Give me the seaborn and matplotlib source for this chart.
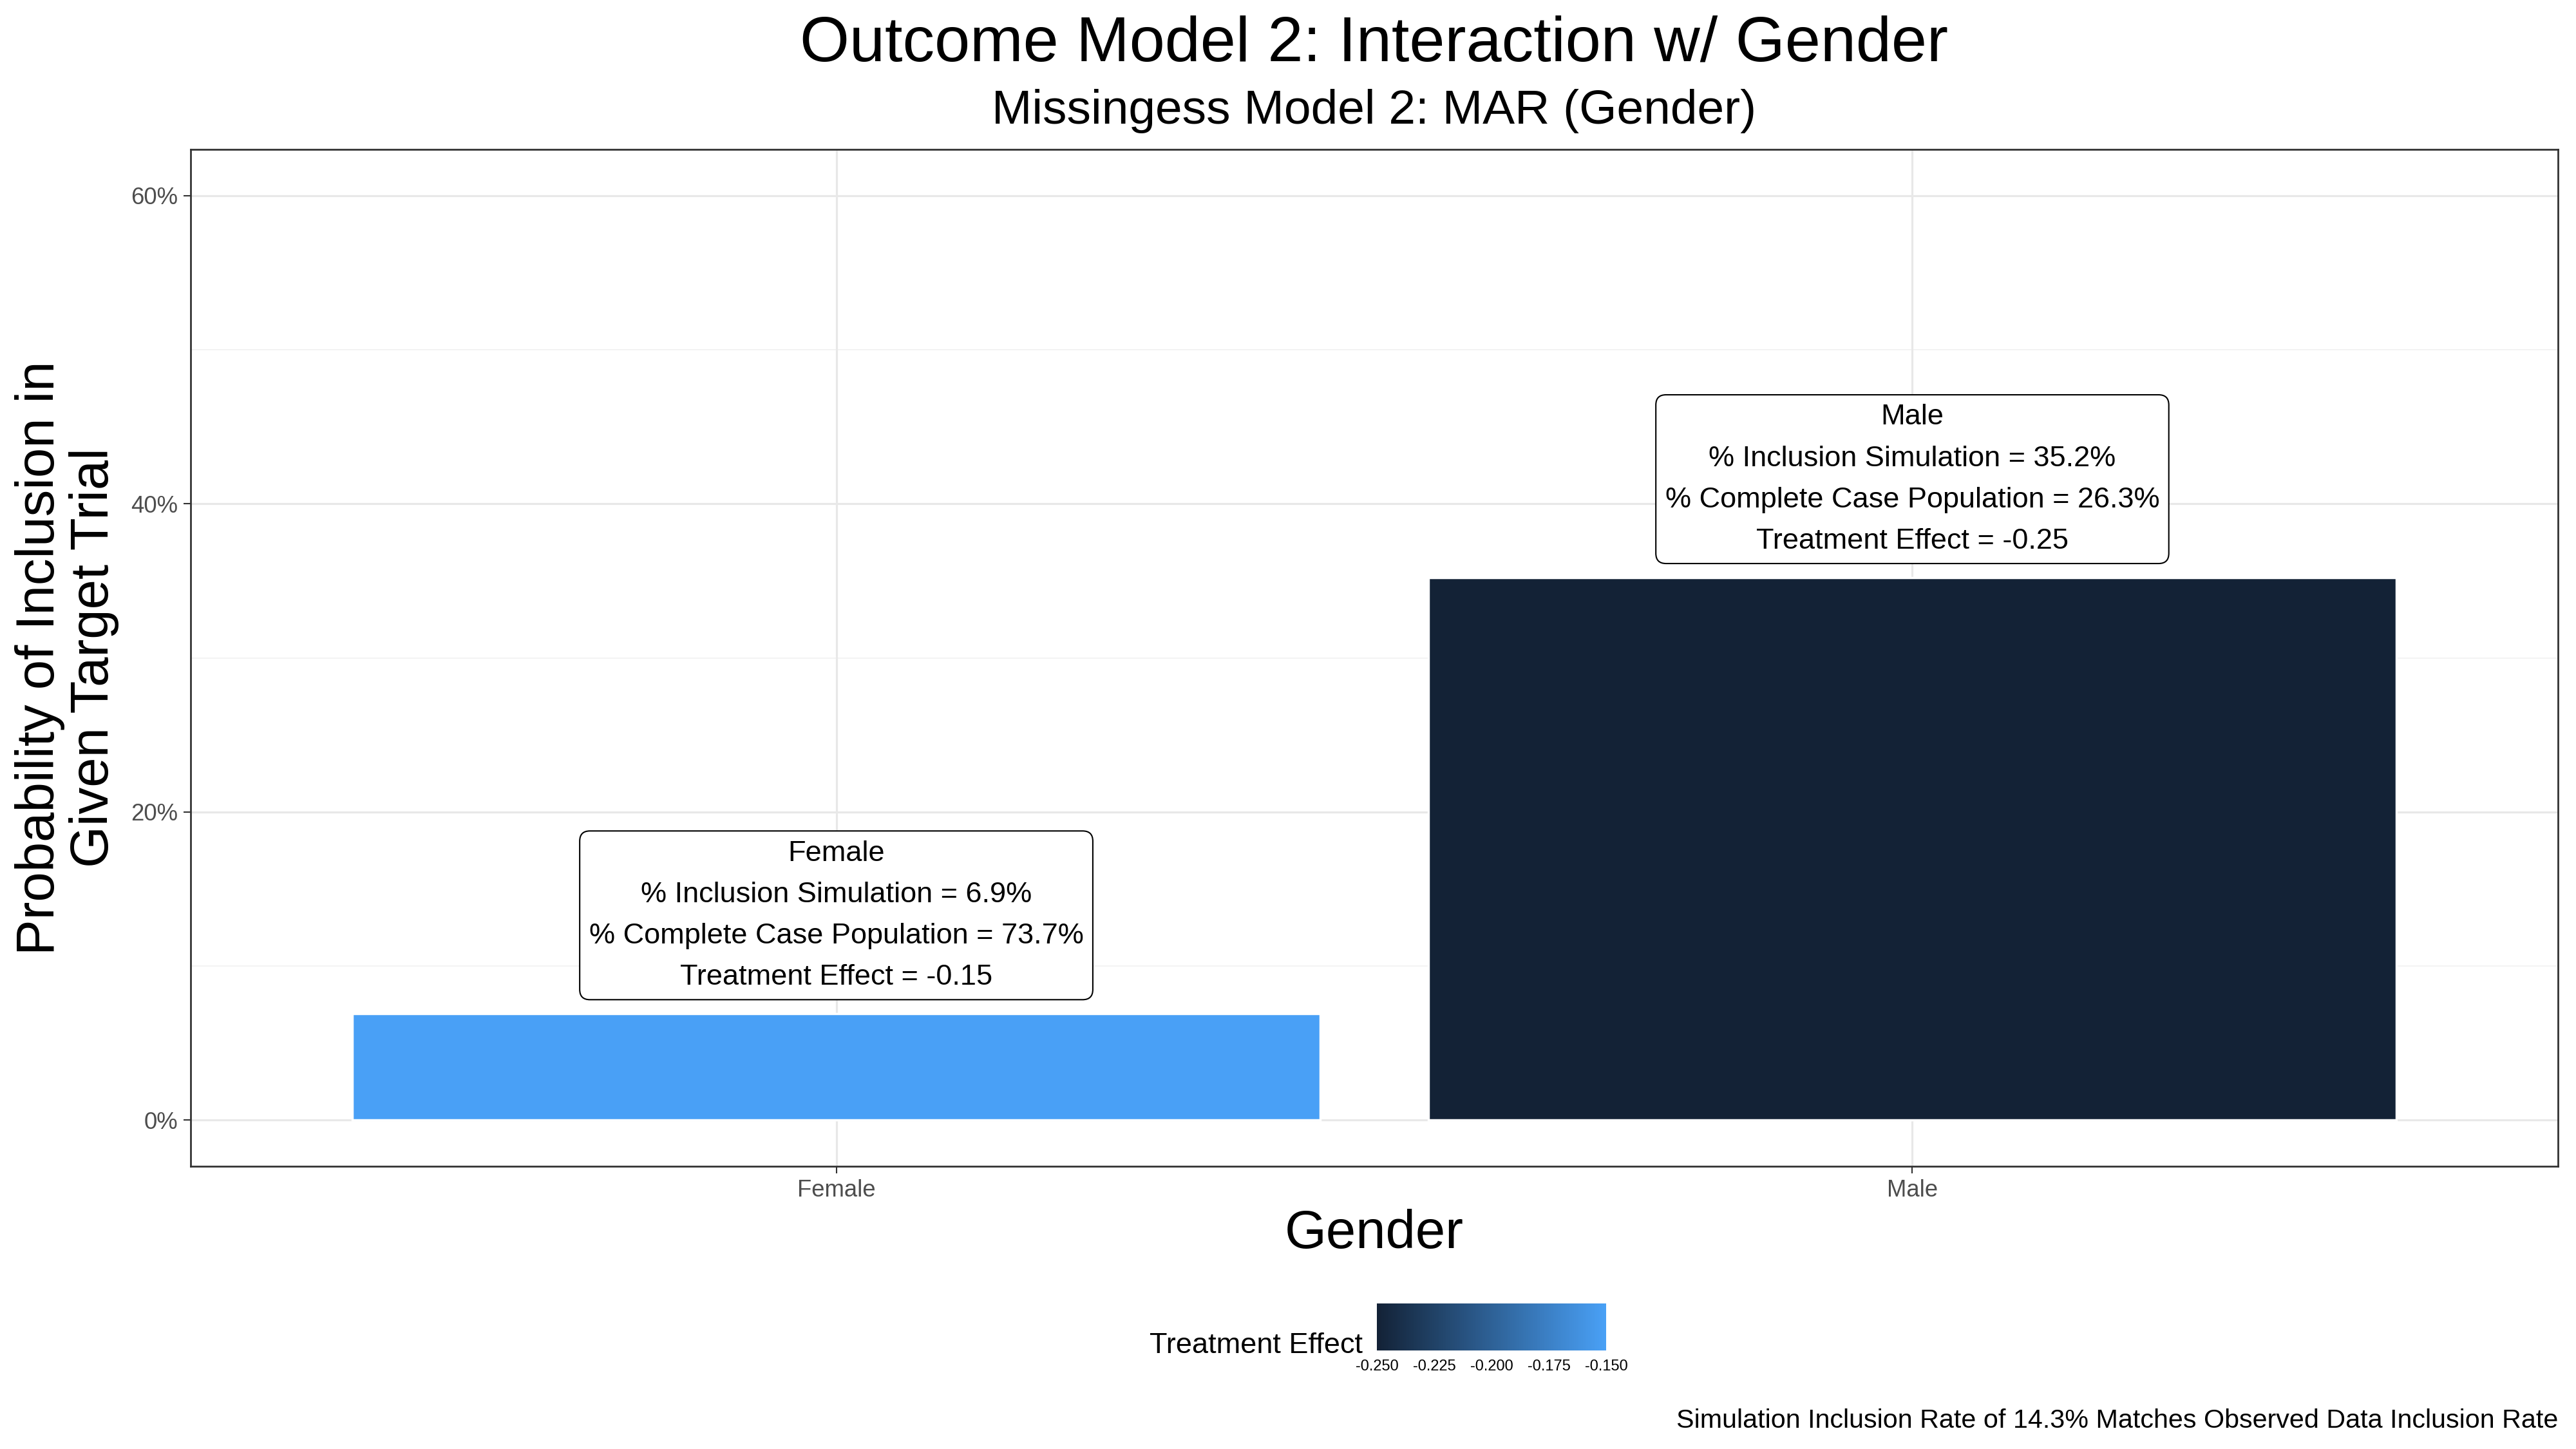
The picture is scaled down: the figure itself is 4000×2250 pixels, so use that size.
import numpy as np
import pandas as pd
import matplotlib
matplotlib.use("Agg")
import matplotlib.pyplot as plt
import seaborn as sns
from matplotlib.colors import LinearSegmentedColormap, Normalize
from matplotlib.cm import ScalarMappable
from matplotlib.ticker import FixedLocator

# data
genders = ["Female", "Male"]
inclusion_sim = [0.069, 0.352]
complete_case = [73.7, 26.3]
treatment_effect = [-0.15, -0.25]
y_ticks = [0.0, 0.2, 0.4, 0.6]
y_tick_labels = ["0%", "20%", "40%", "60%"]
legend_ticks = [-0.250, -0.225, -0.200, -0.175, -0.150]

LOW = "#132236"
HIGH = "#49A0F6"


def build_labels():
    labels = []
    for g, s, c, t in zip(genders, inclusion_sim, complete_case, treatment_effect):
        labels.append(f"{g}\n% Inclusion Simulation = {s * 100:.1f}%\n"
                      f"% Complete Case Population = {c:.1f}%\nTreatment Effect = {t:.2f}")
    return labels


def main():
    sns.set_style("white")
    plt.rcParams["font.family"] = ["Liberation Sans", "DejaVu Sans"]
    plt.rcParams["text.color"] = "black"

    df = pd.DataFrame({"gender": genders, "prob": inclusion_sim, "effect": treatment_effect})
    cmap = LinearSegmentedColormap.from_list("te", [LOW, HIGH])
    norm = Normalize(vmin=min(legend_ticks), vmax=max(legend_ticks))
    palette = {g: cmap(norm(e)) for g, e in zip(df["gender"], df["effect"])}

    fig = plt.figure(figsize=(16, 9), dpi=250)
    ax = fig.add_axes([0.074, 0.195, 0.919, 0.702])

    # grid first so bars sit on top
    for y in [0.1, 0.3, 0.5]:
        ax.axhline(y, color="#F0F0F0", lw=0.45, zorder=0)
    for y in y_ticks:
        ax.axhline(y, color="#E8E8E8", lw=0.9, zorder=0)
    for x in range(len(genders)):
        ax.axvline(x, color="#E8E8E8", lw=0.9, zorder=0)

    sns.barplot(data=df, x="gender", y="prob", hue="gender", palette=palette,
                width=0.9, saturation=1, legend=False, ax=ax, zorder=2)

    ax.set_xlim(-0.6, 1.6)
    ax.set_ylim(-0.03, 0.63)
    ax.set_yticks(y_ticks)
    ax.set_yticklabels(y_tick_labels)
    ax.set_xlabel("")
    ax.set_ylabel("")
    ax.tick_params(axis="both", which="major", labelsize=10.5, labelcolor="#4D4D4D",
                   color="#333333", length=3.2, width=0.6, direction="out",
                   left=True, bottom=True, pad=2.6)
    for sp in ax.spines.values():
        sp.set_color("#333333")
        sp.set_linewidth(0.8)
        sp.set_visible(True)

    # annotation boxes above bars
    for i, (txt, val) in enumerate(zip(build_labels(), inclusion_sim)):
        ax.annotate(txt, xy=(i, val), xytext=(0, 10.5), textcoords="offset points",
                    ha="center", va="bottom", fontsize=13, linespacing=1.72,
                    color="black", zorder=5,
                    bbox=dict(boxstyle="round,pad=0.32,rounding_size=0.35",
                              fc="white", ec="black", lw=0.6))

    # titles
    cx = 0.074 + 0.919 / 2
    fig.text(cx, 0.9578, "Outcome Model 2: Interaction w/ Gender", ha="center",
             va="baseline", fontsize=28.5)
    fig.text(cx, 0.9147, "Missingess Model 2: MAR (Gender)", ha="center",
             va="baseline", fontsize=21.6)
    fig.text(cx, 0.1387, "Gender", ha="center", va="baseline", fontsize=24)
    fig.text(0.026, 0.546, "Probability of Inclusion in\nGiven Target Trial",
             rotation=90, ha="center", va="center", fontsize=24,
             linespacing=1.1, multialignment="center")
    fig.text(0.993, 0.0147,
             "Simulation Inclusion Rate of 14.3% Matches Observed Data Inclusion Rate",
             ha="right", va="baseline", fontsize=11.9)

    # colour bar legend
    cax = fig.add_axes([0.5345, 0.068, 0.089, 0.0324])
    cb = fig.colorbar(ScalarMappable(norm=norm, cmap=cmap), cax=cax,
                      orientation="horizontal")
    cb.outline.set_visible(False)
    cax.xaxis.set_major_locator(FixedLocator(legend_ticks))
    cax.set_xticklabels([f"{t:.3f}" for t in legend_ticks])
    cax.xaxis.set_ticks_position("both")
    cax.tick_params(axis="x", direction="in", color="white", length=3.8, width=0.5,
                    labelsize=6.8, labelcolor="black", pad=4, top=True, labeltop=False)
    fig.text(0.529, 0.0662, "Treatment Effect", ha="right", va="baseline", fontsize=13)

    fig.savefig("out.png", dpi=250)


if __name__ == "__main__":
    main()
